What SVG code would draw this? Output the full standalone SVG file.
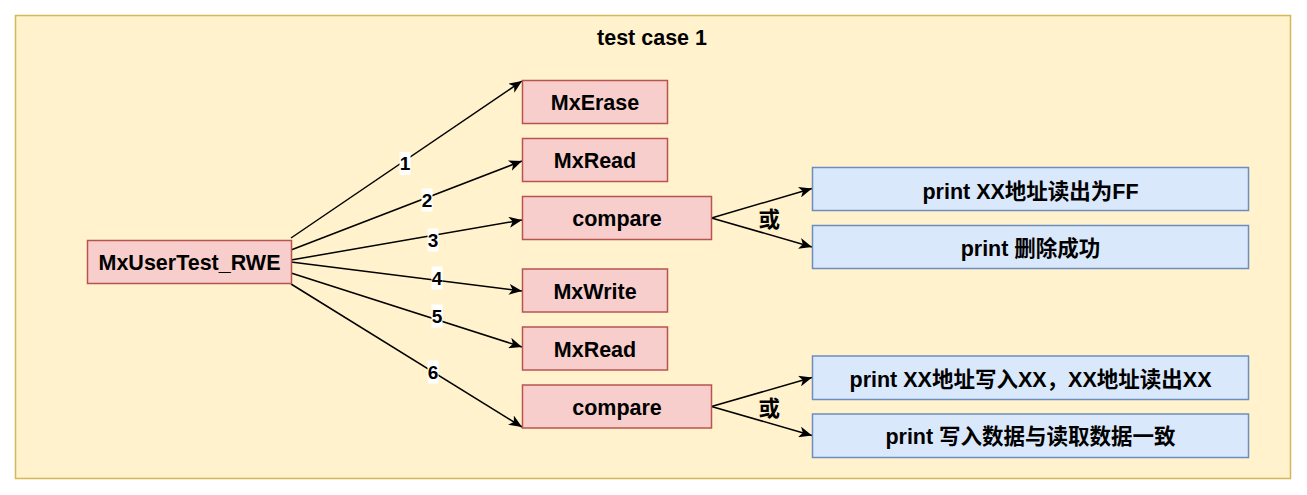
<svg xmlns="http://www.w3.org/2000/svg" width="1307" height="495" viewBox="0 0 1307 495">
<style>
text{font-family:"Liberation Sans",Arial,"Noto Sans CJK SC",sans-serif;font-weight:bold;fill:#000;text-anchor:middle}
.t{font-size:21.5px}
.lbl{font-size:19px}
.pink{fill:#f8cecc;stroke:#b85450;stroke-width:1.5}
.blue{fill:#dae8fc;stroke:#6c8ebf;stroke-width:1.5}
.edge{fill:none;stroke:#000;stroke-width:1.5;marker-end:url(#arrow)}
.lbg{fill:#fff}
</style>
<defs>
<marker id="arrow" markerUnits="userSpaceOnUse" viewBox="0 0 13 11" refX="13" refY="5.5" markerWidth="13" markerHeight="11" orient="auto">
<path d="M0,0 L13,5.5 L0,11 L3.5,5.5 Z" fill="#000"/>
</marker>
</defs>
<g id="container">
<rect x="15.5" y="15.5" width="1275" height="463" fill="#fff2cc" stroke="#d6b656" stroke-width="1.5"/>
<text class="t" x="652" y="45">test case 1</text>
</g>
<g id="connectors">
<line class="edge" x1="291" y1="238" x2="522" y2="81"/>
<line class="edge" x1="291" y1="250" x2="522" y2="161"/>
<line class="edge" x1="291" y1="260" x2="522" y2="220"/>
<line class="edge" x1="291" y1="262" x2="522" y2="291"/>
<line class="edge" x1="291" y1="273" x2="522" y2="347"/>
<line class="edge" x1="291" y1="284" x2="522" y2="427"/>
<line class="edge" x1="711.5" y1="218" x2="812" y2="188.5"/>
<line class="edge" x1="711.5" y1="218" x2="812" y2="247"/>
<line class="edge" x1="711.5" y1="406.5" x2="812" y2="377.5"/>
<line class="edge" x1="711.5" y1="406.5" x2="812" y2="435.5"/>
<rect class="lbg" x="399.5" y="152" width="11" height="23"/>
<text class="lbl" x="405" y="170">1</text>
<rect class="lbg" x="421.5" y="188.5" width="11" height="23"/>
<text class="lbl" x="427" y="207">2</text>
<rect class="lbg" x="427.5" y="228.5" width="11" height="23"/>
<text class="lbl" x="433" y="247">3</text>
<rect class="lbg" x="431.5" y="266.5" width="11" height="23"/>
<text class="lbl" x="437" y="285">4</text>
<rect class="lbg" x="431.5" y="304.5" width="11" height="23"/>
<text class="lbl" x="437" y="323">5</text>
<rect class="lbg" x="427.5" y="360.5" width="11" height="23"/>
<text class="lbl" x="433" y="379">6</text>
<text class="t" x="769.3" y="227">或</text>
<text class="t" x="769.3" y="416">或</text>
</g>
<g id="node-main">
<rect class="pink" x="87.5" y="240.5" width="204" height="43"/>
<text class="t" x="189.5" y="270">MxUserTest_RWE</text>
</g>
<g id="node-erase">
<rect class="pink" x="522.5" y="80.5" width="145" height="43"/>
<text class="t" x="595" y="110">MxErase</text>
</g>
<g id="node-read1">
<rect class="pink" x="522.5" y="138.5" width="145" height="43"/>
<text class="t" x="595" y="168">MxRead</text>
</g>
<g id="node-compare1">
<rect class="pink" x="522.5" y="196.5" width="189" height="43"/>
<text class="t" x="617" y="226">compare</text>
</g>
<g id="node-write">
<rect class="pink" x="522.5" y="269" width="145" height="43"/>
<text class="t" x="595" y="298.5">MxWrite</text>
</g>
<g id="node-read2">
<rect class="pink" x="522.5" y="327" width="145" height="43"/>
<text class="t" x="595" y="356.5">MxRead</text>
</g>
<g id="node-compare2">
<rect class="pink" x="522.5" y="385" width="189" height="43"/>
<text class="t" x="617" y="414.5">compare</text>
</g>
<g id="node-print1">
<rect class="blue" x="812.5" y="167.5" width="436" height="43"/>
<text class="t" x="1030.5" y="198.5">print XX地址读出为FF</text>
</g>
<g id="node-print2">
<rect class="blue" x="812.5" y="225.5" width="436" height="43"/>
<text class="t" x="1030.5" y="256">print 删除成功</text>
</g>
<g id="node-print3">
<rect class="blue" x="812.5" y="356" width="436" height="43.5"/>
<text class="t" x="1030.5" y="386.5">print XX地址写入XX，XX地址读出XX</text>
</g>
<g id="node-print4">
<rect class="blue" x="812.5" y="414" width="436" height="43.5"/>
<text class="t" x="1030.5" y="444">print 写入数据与读取数据一致</text>
</g>
</svg>
